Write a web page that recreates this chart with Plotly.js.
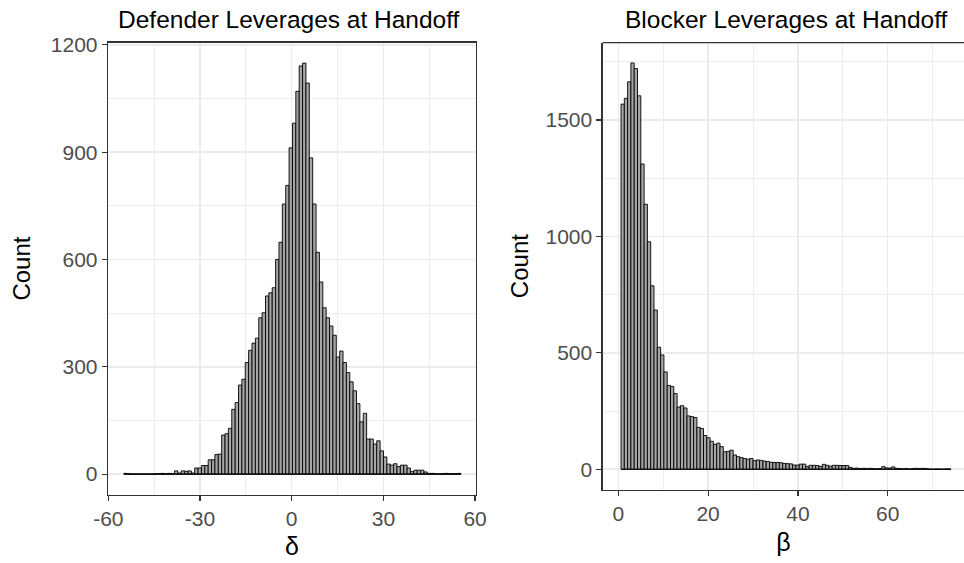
<!DOCTYPE html>
<html>
<head>
<meta charset="utf-8">
<script src="https://cdn.plot.ly/plotly-3.0.1.min.js"></script>
<style>
  html, body { margin: 0; padding: 0; background: #ffffff; }
  #chart { width: 964px; height: 563px; }
</style>
</head>
<body>
<div id="chart"></div>
<script>
// ---- Data ----
const deltaBinStart = -54.9;   // left edge of first δ bin
const deltaBinWidth = 1.103;   // δ bin width
const deltaCounts = [
  2, 1,
  0, 0, 0, 0, 0, 0, 0,
  1, 1, 2, 1, 2, 1,
  9, 3, 9, 8, 9, 3, 17, 17, 24, 24, 40, 40, 55, 56,
  109, 113, 128, 181, 200, 249, 265, 312, 346, 366,
  380, 437, 451, 498, 507, 521, 600, 648, 755, 807,
  912, 981, 1070, 1141, 1149, 1093, 884, 755, 620, 537,
  465, 437, 414, 388, 327, 344, 312, 284, 258, 233,
  197, 146, 170,
  98, 98, 84, 93, 65, 48, 28, 25, 29, 21,
  25, 25, 17, 7, 11, 11, 11, 6, 2, 2,
  1, 0, 1, 2, 1, 1, 1, 2
];

const betaBinStart = 0.6;      // left edge of first β bin
const betaBinWidth = 0.735;    // β bin width
const betaCounts = [
  1568, 1593, 1664, 1745, 1721, 1604, 1311, 1138, 977, 788,
  684, 524, 491, 418, 360, 355, 325, 267, 273, 263,
  229, 226, 222, 180, 175, 145, 135, 120, 107, 112,
  97, 75, 77, 82, 61, 54, 50, 46, 43, 46,
  37, 40, 38, 35, 33, 30, 29, 29, 28, 25,
  24, 23, 18, 18, 22, 22, 12, 17, 17, 16,
  12, 21, 17, 13, 17, 17, 16, 16, 16, 8,
  4, 5, 3, 4, 3, 4, 3, 2, 3, 11,
  6, 5, 10, 4, 3, 2, 3, 1, 3, 4,
  3, 4, 3, 1, 0, 1, 1, 0, 1, 1
];

const deltaTickVals = [-60, -30, 0, 30, 60];
const deltaTickText = ['-60', '-30', '0', '30', '60'];
const betaTickVals = [0, 20, 40, 60];
const betaTickText = ['0', '20', '40', '60'];
const deltaYTicks = [0, 300, 600, 900, 1200];
const betaYTicks = [0, 500, 1000, 1500];

const titleLeft = 'Defender Leverages at Handoff';
const titleRight = 'Blocker Leverages at Handoff';

// ---- Derived bin centres ----
const deltaCenters = deltaCounts.map((_, i) => deltaBinStart + deltaBinWidth * (i + 0.5));
const betaCenters = betaCounts.map((_, i) => betaBinStart + betaBinWidth * (i + 0.5));
const deltaEnd = deltaBinStart + deltaBinWidth * deltaCounts.length;
const betaEnd = betaBinStart + betaBinWidth * betaCounts.length;

const FONT = 'Liberation Sans, Arial, Helvetica, sans-serif';
const barFill = '#a6a6a6';
const gridC = '#ebebeb';
const axisC = '#333333';
const tickFont = { family: FONT, size: 21, color: '#4d4d4d' };

const traces = [
  {
    type: 'bar', x: deltaCenters, y: deltaCounts, width: deltaBinWidth,
    marker: { color: barFill, line: { color: '#000000', width: 0.9 } },
    xaxis: 'x', yaxis: 'y', hoverinfo: 'x+y', showlegend: false
  },
  {
    type: 'scatter', mode: 'lines', x: [deltaBinStart, deltaEnd], y: [0, 0],
    line: { color: '#000000', width: 1.2 }, xaxis: 'x', yaxis: 'y',
    hoverinfo: 'skip', showlegend: false
  },
  {
    type: 'bar', x: betaCenters, y: betaCounts, width: betaBinWidth,
    marker: { color: barFill, line: { color: '#000000', width: 0.9 } },
    xaxis: 'x2', yaxis: 'y2', hoverinfo: 'x+y', showlegend: false
  },
  {
    type: 'scatter', mode: 'lines', x: [betaBinStart, betaEnd], y: [0, 0],
    line: { color: '#000000', width: 1.2 }, xaxis: 'x2', yaxis: 'y2',
    hoverinfo: 'skip', showlegend: false
  }
];

function axisBase(extra) {
  return Object.assign({
    ticks: 'outside', ticklen: 5, tickwidth: 1.2, tickcolor: axisC,
    showline: true, linecolor: axisC, linewidth: 1.3,
    showgrid: true, gridcolor: gridC, gridwidth: 1.6,
    zeroline: false, automargin: false, tickfont: tickFont,
    fixedrange: true
  }, extra);
}
function minorGrid(tick0, dtick) {
  return { tickmode: 'linear', tick0: tick0, dtick: dtick, showgrid: true,
           gridcolor: gridC, gridwidth: 0.9, ticks: '' };
}

const W = 964, H = 563;
const layout = {
  width: W, height: H,
  margin: { l: 0, r: 0, t: 0, b: 0, pad: 0 },
  paper_bgcolor: '#ffffff', plot_bgcolor: '#ffffff',
  bargap: 0, barmode: 'overlay',
  font: { family: FONT, color: '#000000' },
  xaxis: axisBase({
    domain: [108 / W, 476 / W], range: [-60.1, 60.3], anchor: 'y', mirror: true,
    tickmode: 'array', tickvals: deltaTickVals, ticktext: deltaTickText,
    minor: minorGrid(-60, 15),
    title: { text: 'δ', font: { family: FONT, size: 25, color: '#000000' }, standoff: 8 }
  }),
  yaxis: axisBase({
    domain: [1 - 494.5 / H, 1 - 42.7 / H], range: [-57, 1206], anchor: 'x', mirror: true,
    tickmode: 'array', tickvals: deltaYTicks, ticktext: deltaYTicks.map(String),
    minor: minorGrid(0, 150),
    title: { text: 'Count', font: { family: FONT, size: 24, color: '#000000' }, standoff: 13 }
  }),
  xaxis2: axisBase({
    domain: [602.7 / W, 1], range: [-3.48, 77.0], anchor: 'y2', mirror: false,
    tickmode: 'array', tickvals: betaTickVals, ticktext: betaTickText,
    minor: minorGrid(0, 10),
    title: { text: 'β', font: { family: FONT, size: 25, color: '#000000' }, standoff: 9 }
  }),
  yaxis2: axisBase({
    domain: [1 - 489.5 / H, 1 - 42.7 / H], range: [-87, 1832], anchor: 'x2', mirror: false,
    tickmode: 'array', tickvals: betaYTicks, ticktext: betaYTicks.map(String),
    minor: minorGrid(0, 250),
    title: { text: 'Count', font: { family: FONT, size: 24, color: '#000000' }, standoff: 10 }
  }),
  shapes: [
    { type: 'line', xref: 'x2 domain', yref: 'y2 domain', x0: 0, x1: 1, y0: 1, y1: 1,
      line: { color: axisC, width: 1.3 } }
  ],
  annotations: [
    { text: titleLeft, xref: 'paper', yref: 'paper', x: 289 / W, y: 1 - 20 / H,
      xanchor: 'center', yanchor: 'middle', showarrow: false,
      font: { family: FONT, size: 24.5, color: '#000000' } },
    { text: titleRight, xref: 'paper', yref: 'paper', x: 786 / W, y: 1 - 20 / H,
      xanchor: 'center', yanchor: 'middle', showarrow: false,
      font: { family: FONT, size: 24.5, color: '#000000' } }
  ]
};

Plotly.newPlot('chart', traces, layout, { displayModeBar: false, staticPlot: true });
</script>
</body>
</html>
